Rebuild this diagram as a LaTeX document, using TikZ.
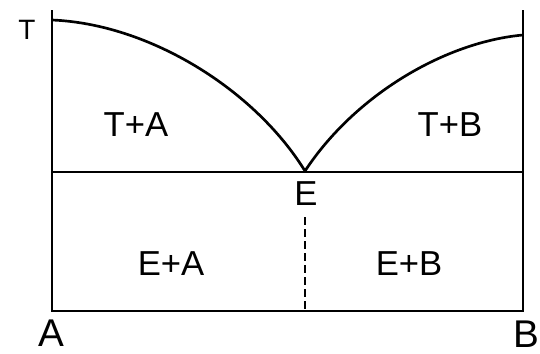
\documentclass[tikz,border=0pt]{standalone}
\usepackage{fontspec}
\setmainfont{Liberation Sans}
\usetikzlibrary{positioning,calc}

\begin{document}
\begin{tikzpicture}[
  x=0.75pt,y=-0.75pt,
  axis/.style={line width=1.5pt},
  liquidus/.style={line width=2pt},
  eutline/.style={dash pattern=on 6pt off 3pt,line width=1.3pt},
  region/.style={font=\fontsize{26}{28}\selectfont,inner sep=0pt},
  corner/.style={font=\fontsize{29}{31}\selectfont,inner sep=0pt}
]
\useasboundingbox (0,0) rectangle (540,354);
% frame of the diagram
\coordinate (Abot) at (52,311);
\coordinate (Atop) at (52,10);
\coordinate (Bbot) at (523,311);
\coordinate (Btop) at (523,10);
\coordinate (Aeut) at (52,172);
\coordinate (Beut) at (523,172);
\coordinate (TA) at (52,20);
\coordinate (TB) at (523,35);
\coordinate (eut) at (305,171);
\coordinate (eutbot) at (305,311);

\draw[axis] (Atop) -- (Abot) -- (Bbot) -- (Btop);
\draw[axis] (Aeut) -- (Beut);

% liquidus branches meeting at the eutectic point
\draw[liquidus] (TA) .. controls (150,24) and (255,90) .. (eut);
\draw[liquidus] (eut) .. controls (355,95) and (445,42) .. (TB);

\node[region] (lblT) at (27,30) {\fontsize{21}{23}\selectfont T};
\node[region] (lblE) at (306,194) {E};
\coordinate (eutdash) at (305,217);
\draw[eutline] (eutdash) -- (eutbot);

\node[region] (lblTA) at (136,124.5) {T+A};
\node[region] (lblTB) at (450,124.5) {T+B};
\node[region] (lblEA) at (171,264) {E+A};
\node[region] (lblEB) at (409,264) {E+B};

\node[corner] (lblA) at (51.5,333) {A};
\node[corner] (lblB) at (526,334) {B};
\end{tikzpicture}
\end{document}
